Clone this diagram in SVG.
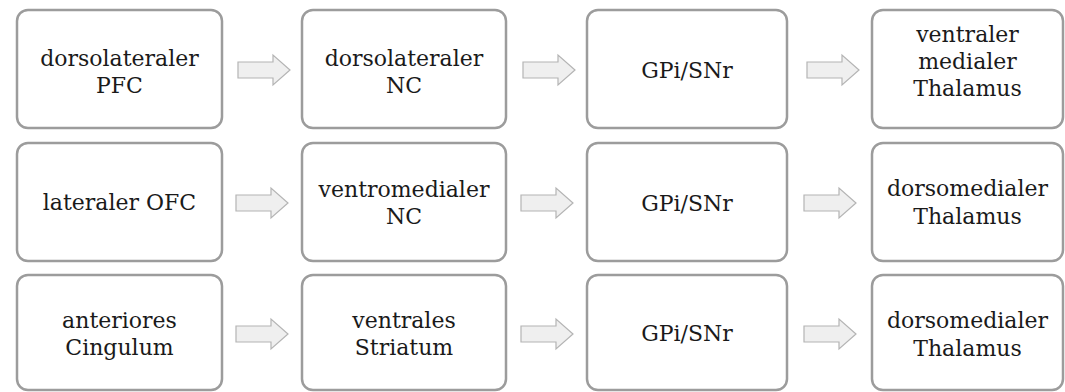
<svg xmlns="http://www.w3.org/2000/svg" width="1065" height="392" viewBox="0 0 1065 392">
  <style>
    .box { fill: #ffffff; stroke: #9c9c9c; stroke-width: 2.5; }
    .lbl { font-family: 'DejaVu Serif', 'Liberation Serif', serif; font-size: 22px; fill: #1a1a1a; text-anchor: middle; }
    .arrow { fill: #efefef; stroke: #b4b4b4; stroke-width: 1.2; }
  </style>
  <defs>
    <!-- block arrow, 52 wide, centred on y=0 -->
    <path id="blockArrow" d="M0,-8 H35 V-15 L52,0 L35,15 V8 H0 Z"/>
  </defs>
  <rect width="1065" height="392" fill="#ffffff"/>

  <!-- row 1 -->
  <g id="n-dlpfc"><rect class="box" x="17" y="10" width="205" height="118" rx="11"/>
    <text class="lbl"><tspan x="119.5" y="66">dorsolateraler</tspan><tspan x="119.5" y="93">PFC</tspan></text></g>
  <g id="n-dlnc"><rect class="box" x="302" y="10" width="204" height="118" rx="11"/>
    <text class="lbl"><tspan x="404" y="66">dorsolateraler</tspan><tspan x="404" y="93">NC</tspan></text></g>
  <g id="n-gpi1"><rect class="box" x="587" y="10" width="200" height="118" rx="11"/>
    <text class="lbl"><tspan x="687" y="78">GPi/SNr</tspan></text></g>
  <g id="n-vmthal"><rect class="box" x="872" y="10" width="191" height="118" rx="11"/>
    <text class="lbl"><tspan x="967.5" y="42">ventraler</tspan><tspan x="967.5" y="69">medialer</tspan><tspan x="967.5" y="96">Thalamus</tspan></text></g>

  <!-- row 2 -->
  <g id="n-lofc"><rect class="box" x="17" y="143" width="205" height="118" rx="11"/>
    <text class="lbl"><tspan x="119.5" y="210">lateraler OFC</tspan></text></g>
  <g id="n-vmnc"><rect class="box" x="302" y="143" width="204" height="118" rx="11"/>
    <text class="lbl"><tspan x="404" y="197">ventromedialer</tspan><tspan x="404" y="224">NC</tspan></text></g>
  <g id="n-gpi2"><rect class="box" x="587" y="143" width="200" height="118" rx="11"/>
    <text class="lbl"><tspan x="687" y="211">GPi/SNr</tspan></text></g>
  <g id="n-dmthal1"><rect class="box" x="872" y="143" width="191" height="118" rx="11"/>
    <text class="lbl"><tspan x="967.5" y="196">dorsomedialer</tspan><tspan x="967.5" y="224">Thalamus</tspan></text></g>

  <!-- row 3 -->
  <g id="n-acc"><rect class="box" x="17" y="275" width="205" height="115" rx="11"/>
    <text class="lbl"><tspan x="119.5" y="328">anteriores</tspan><tspan x="119.5" y="355">Cingulum</tspan></text></g>
  <g id="n-vstr"><rect class="box" x="302" y="275" width="204" height="115" rx="11"/>
    <text class="lbl"><tspan x="404" y="328">ventrales</tspan><tspan x="404" y="355">Striatum</tspan></text></g>
  <g id="n-gpi3"><rect class="box" x="587" y="275" width="200" height="115" rx="11"/>
    <text class="lbl"><tspan x="687" y="341">GPi/SNr</tspan></text></g>
  <g id="n-dmthal2"><rect class="box" x="872" y="275" width="191" height="115" rx="11"/>
    <text class="lbl"><tspan x="967.5" y="328">dorsomedialer</tspan><tspan x="967.5" y="356">Thalamus</tspan></text></g>

  <!-- connectors -->
  <g id="connectors" class="arrow">
    <use href="#blockArrow" x="238" y="70"/>
    <use href="#blockArrow" x="523" y="70"/>
    <use href="#blockArrow" x="807" y="70"/>
    <use href="#blockArrow" x="236" y="203"/>
    <use href="#blockArrow" x="521" y="203"/>
    <use href="#blockArrow" x="804" y="203"/>
    <use href="#blockArrow" x="236" y="334"/>
    <use href="#blockArrow" x="521" y="334"/>
    <use href="#blockArrow" x="804" y="334"/>
  </g>
</svg>
